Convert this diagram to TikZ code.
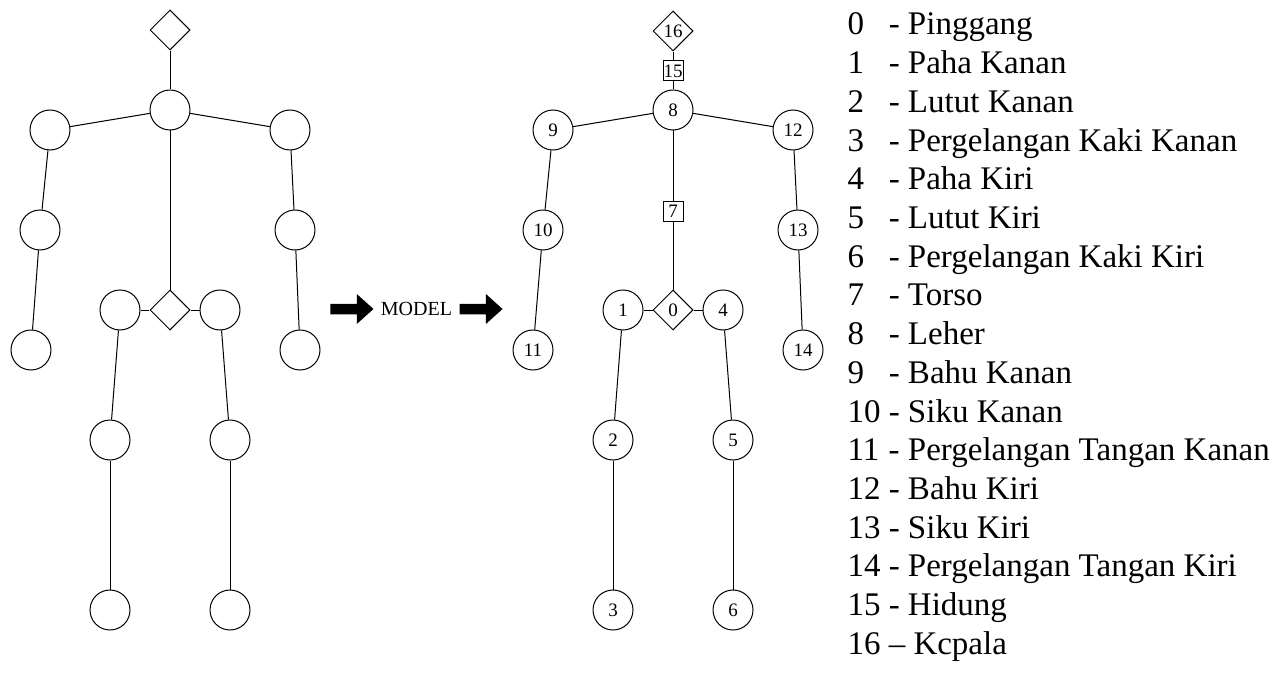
\documentclass[tikz,border=0pt]{standalone}
\usepackage{fontspec}
\setmainfont{Liberation Serif}
\usetikzlibrary{shapes.geometric,shapes.arrows,positioning}

\begin{document}
\begin{tikzpicture}[x=1pt, y=-1pt, line width=1pt,
      joint/.style={circle, draw, minimum size=40pt, inner sep=0pt, font=\fontsize{19}{19}\selectfont},
      end joint/.style={diamond, draw, minimum size=40pt, inner sep=0pt, font=\fontsize{19}{19}\selectfont},
      mid joint/.style={rectangle, draw, minimum size=20pt, inner sep=0pt, font=\fontsize{19}{19}\selectfont},
      big arrow/.style={single arrow, fill=black, draw=none, inner xsep=0pt, inner ysep=4.75pt, outer sep=0pt,
        minimum height=43pt, minimum width=29pt, single arrow head extend=9.75pt, single arrow tip angle=84},
      legend/.style={font=\fontsize{33}{38}\selectfont, inner sep=0pt, anchor=base west}]
    \useasboundingbox (0,0) rectangle (1277,674);
    % kerangka kosong
    \foreach \n/\x/\y in {8/170/110, 9/50/130, 10/40/230, 11/31/350, 12/290/130, 13/295/230, 14/300/350,
        1/120/310, 2/110/440, 3/110/610, 4/220/310, 5/230/440, 6/230/610}{
        \node[joint] (a\n) at (\x,\y) {};
    }
    \node[end joint] (a16) at (170,30) {};
    \node[end joint] (a0) at (170,310) {};
    \foreach \u/\v in {16/8, 8/9, 9/10, 10/11, 8/12, 12/13, 13/14, 8/0, 0/1, 1/2, 2/3, 0/4, 4/5, 5/6}{
        \draw (a\u) -- (a\v);
    }
    % model
    \node[font=\fontsize{20}{20}\selectfont, inner sep=0pt] (model) at (416.5,309) {MODEL};
    \node[big arrow, left=7pt of model] (arrL) {};
    \node[big arrow, right=7pt of model] (arrR) {};
    % kerangka bernomor
    \foreach \n/\x/\y in {8/673/110, 9/553/130, 10/543/230, 11/533/350, 12/793/130, 13/798/230, 14/803/350,
        1/623/310, 2/613/440, 3/613/610, 4/723/310, 5/733/440, 6/733/610}{
        \node[joint] (b\n) at (\x,\y) {\n};
    }
    \node[end joint] (b16) at (673,31) {16};
    \node[mid joint] (b15) at (673,71) {15};
    \node[mid joint] (b7) at (673,211) {7};
    \node[end joint] (b0) at (673,310) {0};
    \foreach \u/\v in {16/15, 15/8, 8/9, 9/10, 10/11, 8/12, 12/13, 13/14, 8/7, 7/0, 0/1, 1/2, 2/3, 0/4, 4/5, 5/6}{
        \draw (b\u) -- (b\v);
    }
    % keterangan
    \foreach \i/\bagian in {0/- Pinggang, 1/- Paha Kanan, 2/- Lutut Kanan, 3/- Pergelangan Kaki Kanan,
        4/- Paha Kiri, 5/- Lutut Kiri, 6/- Pergelangan Kaki Kiri, 7/- Torso, 8/- Leher, 9/- Bahu Kanan,
        10/- Siku Kanan, 11/- Pergelangan Tangan Kanan, 12/- Bahu Kiri, 13/- Siku Kiri,
        14/- Pergelangan Tangan Kiri, 15/- Hidung, 16/– Kcpala}{
        \node[legend] (ket\i) at (847,{35+38.7*\i}) {\makebox[1.25em][l]{\i}\bagian};
    }
\end{tikzpicture}
\end{document}
